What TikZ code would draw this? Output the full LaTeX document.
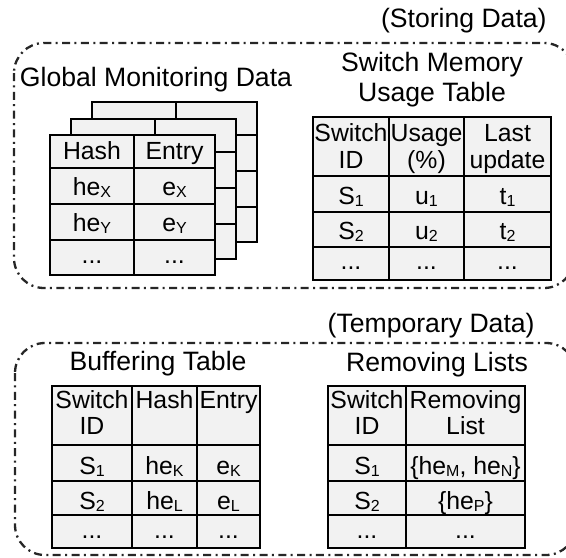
\documentclass[tikz,border=0pt]{standalone}
\usepackage{fontspec}
\setmainfont{Liberation Sans}
\definecolor{cellfill}{HTML}{F2F2F2}
\newcommand{\sbs}[1]{\raisebox{-1.1pt}{\fontsize{8}{9}\selectfont #1}}
\newcommand{\tabfont}{\fontsize{12.4}{14}\selectfont}
\newcommand{\ttlfont}{\fontsize{13.3}{15}\selectfont}
\begin{document}
\begin{tikzpicture}[x=0.5pt,y=-0.5pt,
 panel/.style={draw=black!85,line width=1.15pt,rounded corners=15pt,dash pattern=on 4pt off 2.2pt on 1pt off 2.2pt},
 tabbox/.style={draw=black,line width=1pt,fill=cellfill},
 grid/.style={draw=black,line width=1pt},
 txt/.style={font=\tabfont,inner sep=0pt,anchor=base},
 ttl/.style={font=\ttlfont,inner sep=0pt,anchor=base}]
\useasboundingbox (0,0) rectangle (566,557);
\clip (0,0) rectangle (566,557);

% panels
\draw[panel] (14,43) rectangle (574,288);
\draw[panel] (15,343) rectangle (576,555);

% titles
\node[ttl,anchor=base east] (storing) at (547,27) {(Storing Data)};
\node[ttl] (gmd) at (156,86) {Global Monitoring Data};
\node[ttl] (smu1) at (432,71) {Switch Memory};
\node[ttl] (smu2) at (432,101) {Usage Table};
\node[ttl,anchor=base east] (temp) at (535,332) {(Temporary Data)};
\node[ttl] (buf) at (158,370) {Buffering Table};
\node[ttl] (rem) at (437,371) {Removing Lists};

% global monitoring stack
\foreach \dx/\dy in {42/-33,21/-16.5,0/0}{
 \begin{scope}[shift={(\dx,\dy)}]
  \draw[tabbox] (50,135) rectangle (215,275);
  \draw[grid] (134,135) -- (134,275) (50,168) -- (215,168) (50,204) -- (215,204) (50,240) -- (215,240);
 \end{scope}
}
\node[txt] (gh1) at (92,159) {Hash};
\node[txt] (gh2) at (174.5,159) {Entry};
\node[txt] (gx1) at (92,195) {he\sbs{X}};
\node[txt] (gx2) at (174.5,195) {e\sbs{X}};
\node[txt] (gy1) at (92,231) {he\sbs{Y}};
\node[txt] (gy2) at (174.5,231) {e\sbs{Y}};
\node[txt] (gd1) at (92,263) {...};
\node[txt] (gd2) at (174.5,263) {...};

% switch memory usage table
\draw[tabbox] (313,117) rectangle (551,280);
\draw[grid] (389,117) -- (389,280) (464,117) -- (464,280)
  (313,176) -- (551,176) (313,212) -- (551,212) (313,247) -- (551,247);
\node[txt] (sa1) at (351,141) {Switch};
\node[txt] (sa2) at (351,168) {ID};
\node[txt] (sb1) at (426.5,141) {Usage};
\node[txt] (sb2) at (426.5,168) {(\%)};
\node[txt] (sc1) at (507.5,141) {Last};
\node[txt] (sc2) at (507.5,168) {update};
\node[txt] (s11) at (351,204) {S\sbs{1}};
\node[txt] (s12) at (426.5,204) {u\sbs{1}};
\node[txt] (s13) at (507.5,204) {t\sbs{1}};
\node[txt] (s21) at (351,239) {S\sbs{2}};
\node[txt] (s22) at (426.5,239) {u\sbs{2}};
\node[txt] (s23) at (507.5,239) {t\sbs{2}};
\node[txt] (s31) at (351,269) {...};
\node[txt] (s32) at (426.5,269) {...};
\node[txt] (s33) at (507.5,269) {...};

% buffering table
\draw[tabbox] (52,386) rectangle (260,548);
\draw[grid] (132,386) -- (132,548) (197,386) -- (197,548)
  (52,445) -- (260,445) (52,481) -- (260,481) (52,515) -- (260,515);
\node[txt] (ba1) at (92,408) {Switch};
\node[txt] (ba2) at (92,434) {ID};
\node[txt] (bb1) at (164.5,408) {Hash};
\node[txt] (bc1) at (228.5,408) {Entry};
\node[txt] (b11) at (92,474) {S\sbs{1}};
\node[txt] (b12) at (164.5,474) {he\sbs{K}};
\node[txt] (b13) at (228.5,474) {e\sbs{K}};
\node[txt] (b21) at (92,509) {S\sbs{2}};
\node[txt] (b22) at (164.5,509) {he\sbs{L}};
\node[txt] (b23) at (228.5,509) {e\sbs{L}};
\node[txt] (b31) at (92,538) {...};
\node[txt] (b32) at (164.5,538) {...};
\node[txt] (b33) at (228.5,538) {...};

% removing lists
\draw[tabbox] (328,386) rectangle (525,548);
\draw[grid] (406,386) -- (406,548)
  (328,445) -- (525,445) (328,481) -- (525,481) (328,515) -- (525,515);
\node[txt] (ra1) at (367,408) {Switch};
\node[txt] (ra2) at (367,434) {ID};
\node[txt] (rb1) at (465.5,408) {Removing};
\node[txt] (rb2) at (465.5,434) {List};
\node[txt] (r11) at (367,474) {S\sbs{1}};
\node[txt] (r12) at (465.5,474) {\{he\sbs{M}, he\sbs{N}\}};
\node[txt] (r21) at (367,509) {S\sbs{2}};
\node[txt] (r22) at (465.5,509) {\{he\sbs{P}\}};
\node[txt] (r31) at (367,538) {...};
\node[txt] (r32) at (465.5,538) {...};
\end{tikzpicture}
\end{document}
